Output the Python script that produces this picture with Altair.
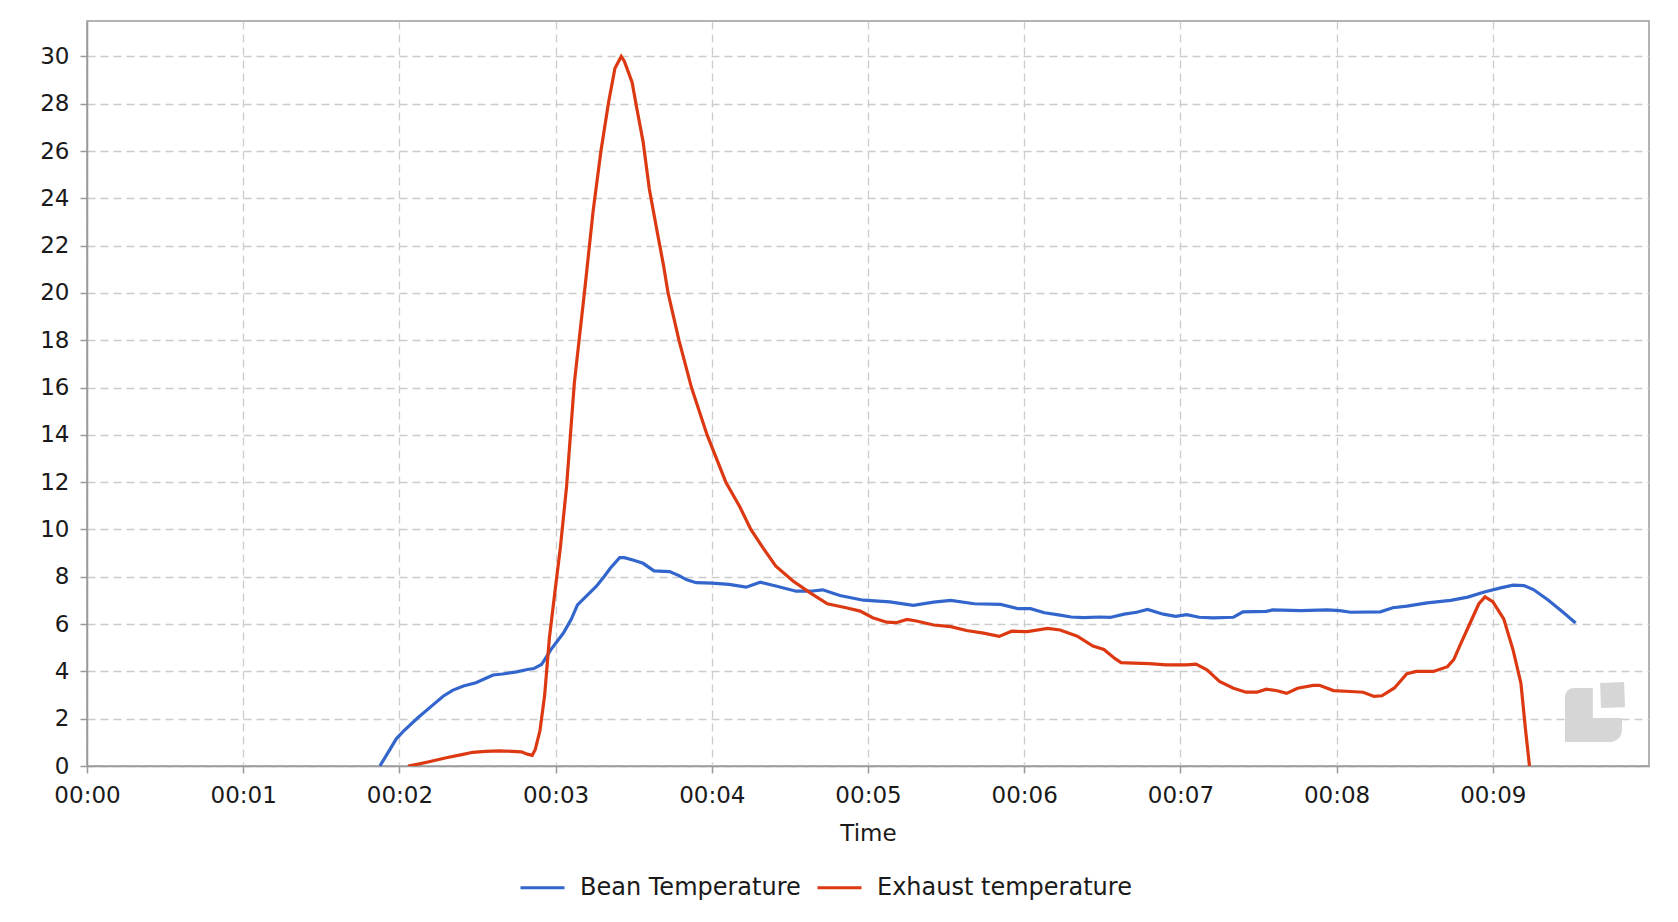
import altair as alt
import pandas as pd

# ---- data (time in minutes, temperature units) ----
bean_t = [1.875, 1.93, 1.98, 2.03, 2.12, 2.2, 2.28, 2.34, 2.41, 2.49, 2.55, 2.6, 2.66, 2.75, 2.82,
          2.86, 2.91, 2.97, 3.05, 3.1, 3.14, 3.2, 3.26, 3.31, 3.35, 3.41, 3.44, 3.5, 3.56, 3.63,
          3.73, 3.79, 3.84, 3.9, 4.0, 4.11, 4.22, 4.31, 4.41, 4.54, 4.63, 4.71, 4.82, 4.97, 5.14,
          5.29, 5.42, 5.53, 5.68, 5.85, 5.96, 6.04, 6.13, 6.23, 6.3, 6.38, 6.48, 6.55, 6.64, 6.72,
          6.79, 6.89, 6.97, 7.04, 7.12, 7.21, 7.34, 7.4, 7.55, 7.59, 7.77, 7.94, 8.02, 8.09, 8.28,
          8.36, 8.45, 8.58, 8.73, 8.84, 8.94, 9.05, 9.13, 9.2, 9.26, 9.35, 9.45, 9.53]
bean_v = [0.0, 0.6, 1.15, 1.5, 2.05, 2.5, 2.95, 3.2, 3.38, 3.52, 3.7, 3.85, 3.89, 3.98, 4.08,
          4.12, 4.29, 4.92, 5.62, 6.2, 6.81, 7.2, 7.59, 8.0, 8.36, 8.81, 8.81, 8.7, 8.57, 8.25,
          8.22, 8.05, 7.87, 7.75, 7.73, 7.68, 7.56, 7.77, 7.61, 7.39, 7.39, 7.45, 7.21, 7.01, 6.94,
          6.79, 6.93, 7.0, 6.86, 6.83, 6.65, 6.65, 6.48, 6.38, 6.3, 6.27, 6.3, 6.28, 6.42, 6.5,
          6.62, 6.42, 6.33, 6.4, 6.29, 6.26, 6.29, 6.52, 6.54, 6.6, 6.57, 6.6, 6.57, 6.5, 6.52,
          6.69, 6.76, 6.9, 7.0, 7.14, 7.35, 7.53, 7.65, 7.63, 7.46, 7.04, 6.5, 6.05]

exh_t = [2.055, 2.12, 2.19, 2.3, 2.4, 2.47, 2.55, 2.64, 2.72, 2.78, 2.82, 2.85, 2.87, 2.9, 2.93,
         2.96, 3.0, 3.03, 3.07, 3.12, 3.19, 3.24, 3.29, 3.34, 3.38, 3.42, 3.44, 3.49, 3.52, 3.56,
         3.6, 3.65, 3.69, 3.72, 3.79, 3.87, 3.97, 4.09, 4.18, 4.25, 4.33, 4.41, 4.52, 4.63, 4.74,
         4.86, 4.95, 5.03, 5.12, 5.18, 5.25, 5.31, 5.42, 5.53, 5.63, 5.74, 5.84, 5.92, 6.02, 6.15,
         6.23, 6.34, 6.44, 6.51, 6.58, 6.62, 6.7, 6.8, 6.91, 7.04, 7.1, 7.17, 7.25, 7.34, 7.42,
         7.49, 7.55, 7.62, 7.68, 7.75, 7.85, 7.89, 7.98, 8.09, 8.17, 8.24, 8.29, 8.37, 8.45, 8.51,
         8.62, 8.71, 8.75, 8.79, 8.86, 8.91, 8.95, 9.0, 9.07, 9.13, 9.18, 9.21, 9.235]
exh_v = [0.0, 0.08, 0.18, 0.35, 0.48, 0.58, 0.62, 0.64, 0.62, 0.6, 0.5, 0.45, 0.7, 1.5, 3.0,
         5.4, 7.6, 9.2, 11.8, 16.2, 20.35, 23.45, 25.99, 28.1, 29.5, 30.0, 29.8, 28.9, 27.8, 26.4,
         24.4, 22.6, 21.2, 20.0, 18.0, 16.0, 14.0, 12.0, 10.95, 10.0, 9.2, 8.45, 7.82, 7.32, 6.86,
         6.69, 6.55, 6.27, 6.08, 6.06, 6.2, 6.13, 5.96, 5.89, 5.73, 5.62, 5.48, 5.7, 5.68, 5.82,
         5.75, 5.49, 5.07, 4.93, 4.55, 4.37, 4.35, 4.33, 4.28, 4.28, 4.31, 4.07, 3.58, 3.29, 3.12,
         3.12, 3.25, 3.18, 3.07, 3.29, 3.41, 3.41, 3.19, 3.15, 3.12, 2.94, 2.97, 3.3, 3.9, 4.0,
         4.0, 4.2, 4.5, 5.1, 6.12, 6.85, 7.15, 6.95, 6.22, 4.9, 3.5, 1.5, 0.0]

series_names = ["Bean Temperature", "Exhaust temperature"]
series_colors = ["#3366cc", "#dc3912"]
x_ticks = list(range(0, 10))
y_ticks = list(range(0, 31, 2))

df = pd.concat([
    pd.DataFrame({"t": bean_t, "v": bean_v, "series": series_names[0], "order": range(len(bean_t))}),
    pd.DataFrame({"t": exh_t, "v": exh_v, "series": series_names[1], "order": range(len(exh_t))}),
])

lines = alt.Chart(df).mark_line(strokeWidth=3.2, clip=True).encode(
    x=alt.X("t:Q", scale=alt.Scale(domain=[0, 10], nice=False),
            axis=alt.Axis(values=x_ticks, labelExpr="'00:0' + datum.value", title="Time",
                          labelFlush=False)),
    y=alt.Y("v:Q", scale=alt.Scale(domain=[0, 31.5], nice=False),
            axis=alt.Axis(values=y_ticks, title=None)),
    color=alt.Color("series:N",
                    scale=alt.Scale(domain=series_names, range=series_colors),
                    legend=alt.Legend(title=None, orient="none", direction="horizontal",
                                      legendX=432, legendY=843,
                                      symbolType="stroke", symbolSize=1936,
                                      symbolStrokeWidth=3, labelFontSize=24,
                                      labelOffset=14, columnPadding=10, labelLimit=0,
                                      labelColor="#1a1a1a")),
    order="order:Q",
)

# faint watermark logo in the lower right corner
logo_path = ("M-1,1 L-1,-0.47 Q-1,-0.8 -0.67,-0.8 L-0.07,-0.8 L-0.07,0.2 L0.9,0.2 L0.9,0.53 "
             "Q0.9,1 0.43,1 Z M0.17,-0.97 L0.97,-1 L1,-0.16 L0.2,-0.13 Z")
logo = alt.Chart(pd.DataFrame({"k": [0]})).mark_point(
    shape=logo_path, filled=True, color="#d6d6d6", opacity=1, size=3600, strokeWidth=0
).encode(x=alt.value(1508), y=alt.value(691))

chart = alt.layer(lines, logo).properties(
    width=1562, height=745,
    autosize=alt.AutoSizeParams(type="none"),
    padding={"left": 79, "top": 13, "right": 13, "bottom": 150},
).configure(
    font="DejaVu Sans",
).configure_view(
    stroke="#9a9a9a", strokeWidth=1.5,
).configure_axis(
    domainColor="#9a9a9a", domainWidth=1.5,
    tickColor="#9a9a9a", tickWidth=1.5, tickSize=7,
    gridColor="#cccccc", gridDash=[8, 5], gridWidth=1.3,
    labelFontSize=23, labelColor="#1a1a1a",
    titleFontSize=23, titleFontWeight="normal", titleColor="#1a1a1a",
).configure_axisX(
    labelPadding=11, titlePadding=15,
).configure_axisY(
    labelPadding=11,
)

chart.save("out.html", embed_options={"renderer": "svg", "actions": False})
